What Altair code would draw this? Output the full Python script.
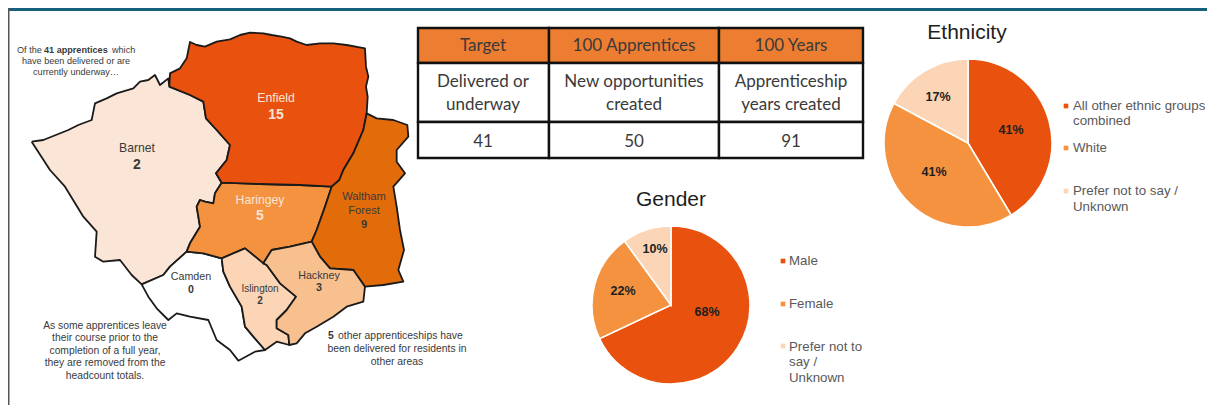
import altair as alt
import pandas as pd

# ---------- values ----------
ORANGE_DARK = "#E8520E"
ORANGE_MID = "#F4923F"
ORANGE_PALE = "#FBD5B5"

gender_labels = ["Male", "Female", "Prefer not to say / Unknown"]
gender_values = [68, 22, 10]
ethnicity_labels = ["All other ethnic groups combined", "White", "Prefer not to say / Unknown"]
ethnicity_values = [41, 41, 17]
pie_colors = [ORANGE_DARK, ORANGE_MID, ORANGE_PALE]

# Map outlines: points traced at 3x, from the crop starting at (0, 30)
barnet = [(95,335),(130,330),(205,300),(235,285),(275,270),(285,220),(320,205),(350,190),(400,175),(420,155),(445,150),(465,135),(480,165),(505,145),(508,170),(570,195),(610,215),(618,265),(650,300),(690,345),(680,390),(648,430),(665,458),(645,490),(640,520),(615,515),(600,510),(590,530),(600,590),(570,640),(560,665),(510,710),(490,735),(425,763),(395,735),(360,690),(310,695),(285,680),(290,605),(250,560),(195,470),(150,420),(95,335)]
enfield = [(508,170),(510,130),(540,115),(560,85),(570,36),(590,45),(615,50),(650,35),(690,28),(720,15),(750,8),(790,10),(815,15),(845,20),(870,25),(890,35),(920,45),(960,40),(1000,40),(1040,45),(1095,55),(1098,110),(1105,140),(1098,170),(1103,200),(1100,250),(1090,300),(1060,370),(1030,420),(1018,450),(995,470),(900,465),(780,462),(665,458),(648,430),(680,390),(690,345),(650,300),(618,265),(610,215),(570,195),(508,170)]
haringey = [(665,458),(780,462),(900,465),(995,470),(975,530),(950,600),(935,635),(870,650),(815,660),(790,700),(735,655),(665,685),(610,670),(560,665),(570,640),(600,590),(590,530),(600,510),(615,515),(640,520),(645,490),(665,458)]
waltham = [(995,470),(1018,450),(1030,420),(1060,370),(1090,300),(1100,250),(1130,265),(1180,270),(1222,285),(1225,320),(1190,360),(1190,395),(1215,430),(1180,470),(1190,530),(1200,600),(1212,660),(1195,720),(1210,755),(1150,765),(1095,770),(1060,720),(990,715),(960,680),(935,635),(950,600),(975,530),(995,470)]
hackney = [(935,635),(960,680),(990,715),(1060,720),(1095,770),(1090,815),(1040,830),(1000,860),(950,890),(915,910),(890,940),(868,945),(865,915),(830,895),(830,870),(860,840),(888,800),(840,760),(800,705),(790,700),(815,660),(870,650),(935,635)]
islington = [(665,685),(735,655),(790,700),(800,705),(840,760),(888,800),(860,840),(830,870),(830,895),(865,915),(868,945),(830,935),(795,960),(760,920),(735,890),(725,830),(690,770),(670,725),(665,685)]
camden = [(425,763),(490,735),(510,710),(560,665),(610,670),(665,685),(670,725),(690,770),(725,830),(735,890),(760,920),(795,960),(765,965),(715,992),(690,960),(650,930),(625,870),(570,860),(530,850),(505,870),(470,835),(445,800),(425,763)]

districts = [
    (barnet, "#FBE5D6"), (camden, "#FFFFFF"), (haringey, ORANGE_MID), (enfield, ORANGE_DARK),
    (waltham, "#E36C0A"), (islington, "#FBD5B5"), (hackney, "#F8BF8F"),
]

table_columns = [418, 549, 719, 863]
table_rows = [28, 63, 122, 158]

DARK = "#3A3A3A"
GREY = "#595959"
NEAR = "#1E1E1E"
CREAM = "#FBE5D6"

# text, x, y, size, colour
arial_center = [
    ("have been delivered or are", 76, 61, 9.1, DARK),
    ("currently underway…", 76, 72, 9.1, DARK),
    ("Enfield", 276, 98, 12.3, CREAM),
    ("Barnet", 137, 148, 12.2, DARK),
    ("Haringey", 260, 200, 12.2, CREAM),
    ("Waltham", 364, 197, 11.2, DARK),
    ("Forest", 364, 211, 11.2, DARK),
    ("Hackney", 319, 276, 10.7, DARK),
    ("Islington", 260, 289, 10, DARK),
    ("Camden", 191, 277, 10.7, DARK),
    ("As some apprentices leave", 105, 326, 10.3, DARK),
    ("their course prior to the", 105, 338, 10.3, DARK),
    ("completion of a full year,", 105, 351, 10.3, DARK),
    ("they are removed from the", 105, 363, 10.3, DARK),
    ("headcount totals.", 105, 376, 10.3, DARK),
    ("been delivered for residents in", 397, 349, 10.4, DARK),
    ("other areas", 397, 362, 10.4, DARK),
    ("Ethnicity", 967, 33, 21, NEAR),
    ("Gender", 671, 200, 21, NEAR),
]
arial_left = [
    ("Of the", 17, 50, 9.1, DARK),
    ("which", 112, 50, 9.1, DARK),
    ("other apprenticeships have", 338, 336, 10.4, DARK),
    ("All other ethnic groups", 1073, 106, 13.3, GREY),
    ("combined", 1073, 121, 13.3, GREY),
    ("White", 1073, 148, 13.3, GREY),
    ("Prefer not to say /", 1073, 191, 13.3, GREY),
    ("Unknown", 1073, 207, 13.3, GREY),
    ("Male", 789, 261, 13.3, GREY),
    ("Female", 789, 304, 13.3, GREY),
    ("Prefer not to", 789, 347, 13.3, GREY),
    ("say /", 789, 362, 13.3, GREY),
    ("Unknown", 789, 378, 13.3, GREY),
]
arial_bold_center = [
    ("15", 276, 115, 14, CREAM),
    ("2", 137, 165, 14, DARK),
    ("5", 260, 216, 14, CREAM),
    ("9", 364, 225, 11.2, DARK),
    ("3", 319, 288, 10.7, DARK),
    ("2", 260, 301, 10, DARK),
    ("0", 191, 290, 10.7, DARK),
    ("41%", 1011, 130, 12.5, NEAR),
    ("41%", 934, 172, 12.5, NEAR),
    ("17%", 938, 97, 12.5, NEAR),
    ("68%", 707, 312, 12.5, NEAR),
    ("22%", 623, 291, 12.5, NEAR),
    ("10%", 655, 249, 12.5, NEAR),
]
arial_bold_left = [
    ("41 apprentices", 44, 50, 9.1, DARK),
    ("5", 328, 336, 10.4, DARK),
]
table_text = [
    ("Target", 483, 46, 17, DARK),
    ("100 Apprentices", 634, 46, 17, DARK),
    ("100 Years", 791, 46, 17, DARK),
    ("Delivered or", 483, 82, 17, DARK),
    ("underway", 483, 105, 17, DARK),
    ("New opportunities", 634, 82, 17, DARK),
    ("created", 634, 105, 17, DARK),
    ("Apprenticeship", 791, 82, 17, DARK),
    ("years created", 791, 105, 17, DARK),
    ("41", 483, 142, 17, DARK),
    ("50", 634, 142, 17, DARK),
    ("91", 791, 142, 17, DARK),
]

legend_squares = [
    (1066, 106, ORANGE_DARK), (1066, 148, ORANGE_MID), (1066, 191, ORANGE_PALE),
    (783, 261, ORANGE_DARK), (783, 304, ORANGE_MID), (783, 346, ORANGE_PALE),
]

# ---------- shared pixel scales ----------
W, H = 1199, 397
OFF = 8
xs = alt.Scale(domain=[OFF, OFF + W])
ys = alt.Scale(domain=[OFF + H, OFF])


def X(f="x"):
    return alt.X(f"{f}:Q", scale=xs, axis=None)


def Y(f="y"):
    return alt.Y(f"{f}:Q", scale=ys, axis=None)


def text_layer(rows, font, align="center", weight="normal"):
    df = pd.DataFrame(rows, columns=["t", "x", "y", "s", "c"])
    return alt.Chart(df).mark_text(font=font, align=align, baseline="middle", fontWeight=weight).encode(
        x=X(), y=Y(), text="t:N",
        size=alt.Size("s:Q", scale=None),
        color=alt.Color("c:N", scale=None),
    )


layers = []

# frame
frame = pd.DataFrame([
    {"x": 8, "x2": 1207, "y": 8, "y2": 11, "c": "#17607A"},
    {"x": 8, "x2": 9.5, "y": 8, "y2": 405, "c": "#555555"},
])
layers.append(alt.Chart(frame).mark_rect().encode(
    x=X(), x2="x2:Q", y=Y(), y2="y2:Q", color=alt.Color("c:N", scale=None)))

# map
for pts, col in districts:
    df = pd.DataFrame({
        "x": [p[0] / 3 for p in pts],
        "y": [p[1] / 3 + 30 for p in pts],
        "i": list(range(len(pts))),
    })
    layers.append(alt.Chart(df).mark_line(fill=col, stroke="#1A1A1A", strokeWidth=1.8, strokeJoin="round").encode(
        x=X(), y=Y(), order="i:Q"))

# table
cells = []
for r in range(3):
    for c in range(3):
        cells.append({
            "x": table_columns[c], "x2": table_columns[c + 1],
            "y": table_rows[r], "y2": table_rows[r + 1],
            "c": "#ED7D31" if r == 0 else "#FFFFFF",
        })
layers.append(alt.Chart(pd.DataFrame(cells)).mark_rect(stroke="#111111", strokeWidth=2.4).encode(
    x=X(), x2="x2:Q", y=Y(), y2="y2:Q", color=alt.Color("c:N", scale=None)))


# pies
def pie(labels, values, cx, cy, r):
    df = pd.DataFrame({"k": labels, "v": values, "i": range(len(values)), "c": pie_colors})
    return alt.Chart(df).mark_arc(radius=r, stroke="#FFFFFF", strokeWidth=1.6).encode(
        theta=alt.Theta("v:Q", stack=True, scale=alt.Scale(domain=[0, sum(values)])),
        order="i:Q",
        color=alt.Color("c:N", scale=None),
        x=alt.value(cx - OFF), y=alt.value(cy - OFF),
    )


layers.append(pie(gender_labels, gender_values, 671, 305, 79))
layers.append(pie(ethnicity_labels, ethnicity_values, 968, 143, 84))

# legend swatches
layers.append(alt.Chart(pd.DataFrame(legend_squares, columns=["x", "y", "c"])).mark_square(size=22, opacity=1).encode(
    x=X(), y=Y(), color=alt.Color("c:N", scale=None)))

# text
layers.append(text_layer(arial_center, "Liberation Sans"))
layers.append(text_layer(arial_left, "Liberation Sans", align="left"))
layers.append(text_layer(arial_bold_center, "Liberation Sans", weight="bold"))
layers.append(text_layer(arial_bold_left, "Liberation Sans", align="left", weight="bold"))
layers.append(text_layer(table_text, "Lato"))

chart = alt.layer(*layers).resolve_scale(theta="independent").properties(
    width=W, height=H, padding=0, autosize=alt.AutoSizeParams(type="none"), background="#FFFFFF",
).configure_view(stroke=None)

chart.save("out.html", embed_options={"renderer": "svg", "actions": False})
